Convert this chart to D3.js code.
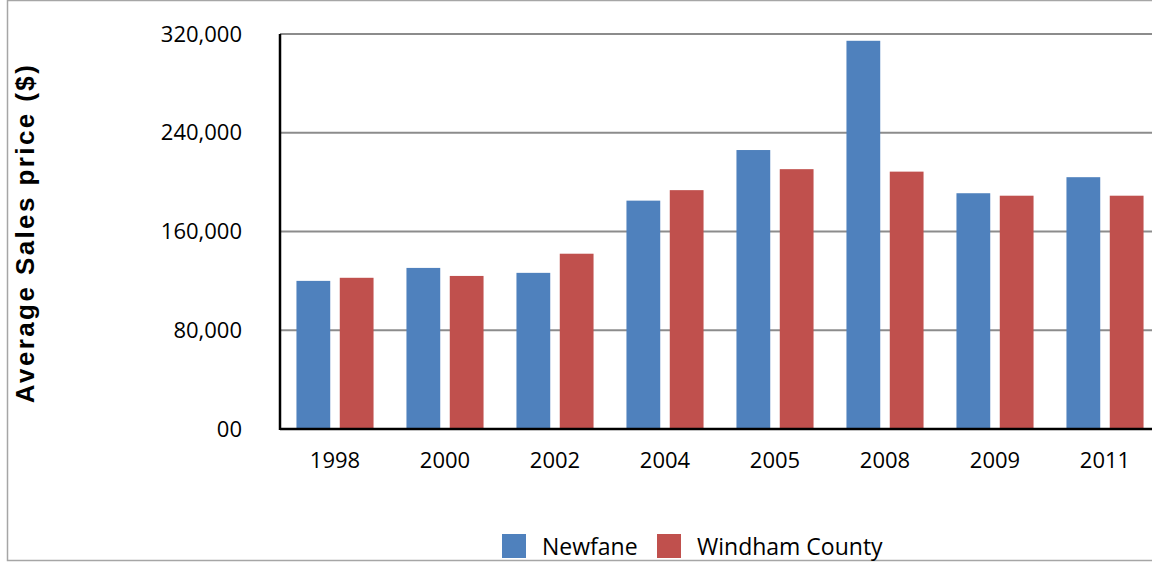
<!DOCTYPE html>
<html>
<head>
<meta charset="utf-8">
<script src="https://cdn.jsdelivr.net/npm/d3@7"></script>
<style>
  html, body { margin: 0; padding: 0; background: #fff; overflow: hidden; }
  text { font-family: "Open Sans", "DejaVu Sans", sans-serif; }
</style>
</head>
<body>
<div class="chart"></div>
<script>
// data
const years = ["1998", "2000", "2002", "2004", "2005", "2008", "2009", "2011"]
const seriesNames = ["Newfane", "Windham County"]
const newfane = [120000, 130500, 126500, 185000, 226000, 314500, 191000, 204000]
const windham = [122500, 124000, 142000, 193500, 210500, 208500, 189000, 189000]
const yTicks = [0, 80000, 160000, 240000, 320000]
const colors = ["#4f81bd", "#c0504d"]

const W = 1152, H = 563
const margin = { top: 34, left: 280, bottom: 134, right: -8 }
const w = W - margin.left - margin.right
const h = H - margin.top - margin.bottom

const svg = d3.select(".chart").append("svg")
  .attr("width", W)
  .attr("height", H)

// outer frame
svg.append("rect")
  .attr("x", 7.5).attr("y", 0.5)
  .attr("width", W + 10).attr("height", 560)
  .attr("fill", "none")
  .attr("stroke", "#a6a6a6")
  .attr("stroke-width", 1.5)

const g = svg.append("g")
  .attr("transform", "translate(" + margin.left + "," + margin.top + ")")

const x0 = d3.scaleBand().domain(years).range([0, w]).paddingInner(0).paddingOuter(0)
const x1 = d3.scaleBand().domain(seriesNames).range([0, x0.bandwidth()])
  .paddingInner(0.22).paddingOuter(0.38)
const y = d3.scaleLinear().domain([0, 320000]).range([h, 0])

// gridlines
g.append("g")
  .selectAll("line")
  .data(yTicks.filter(d => d > 0))
  .enter().append("line")
  .attr("x1", 0).attr("x2", w)
  .attr("y1", d => y(d)).attr("y2", d => y(d))
  .attr("stroke", "#8c8c8c")
  .attr("stroke-width", 2)

// y axis labels
const yAxis = g.append("g")
  .call(d3.axisLeft(y).tickValues(yTicks).tickSize(0).tickPadding(38)
    .tickFormat(d => d === 0 ? "00" : d3.format(",")(d)))
yAxis.select(".domain").remove()
yAxis.selectAll("text")
  .attr("font-size", 22)
  .attr("fill", "#000")
  .style("font-family", "'Open Sans', sans-serif")

// bars
const rows = years.map((yr, i) => ({ year: yr, values: [newfane[i], windham[i]] }))
const groups = g.selectAll(".grp")
  .data(rows)
  .enter().append("g")
  .attr("class", "grp")
  .attr("transform", d => "translate(" + x0(d.year) + ",0)")

groups.selectAll("rect")
  .data(d => d.values.map((v, k) => ({ key: seriesNames[k], value: v, k: k })))
  .enter().append("rect")
  .attr("x", d => x1(d.key))
  .attr("y", d => y(d.value))
  .attr("width", x1.bandwidth())
  .attr("height", d => h - y(d.value))
  .attr("fill", d => colors[d.k])

// x axis
const xAxis = g.append("g")
  .attr("transform", "translate(0," + h + ")")
  .call(d3.axisBottom(x0).tickSize(0).tickPadding(23))
xAxis.select(".domain").remove()
xAxis.selectAll("text")
  .attr("font-size", 22)
  .attr("fill", "#000")
  .style("font-family", "'Open Sans', sans-serif")

// axis lines
g.append("line")
  .attr("x1", 0).attr("x2", w)
  .attr("y1", h).attr("y2", h)
  .attr("stroke", "#000").attr("stroke-width", 2.5)
g.append("line")
  .attr("x1", 0).attr("x2", 0)
  .attr("y1", 0).attr("y2", h + 1)
  .attr("stroke", "#000").attr("stroke-width", 2.5)

// y title
svg.append("text")
  .attr("transform", "translate(34,233) rotate(-90)")
  .attr("text-anchor", "middle")
  .attr("font-size", 26)
  .attr("font-weight", "bold")
  .attr("letter-spacing", 2.4)
  .style("font-family", "'Liberation Sans', Arial, sans-serif")
  .text("Average Sales price ($)")

// legend
const legend = svg.append("g").attr("transform", "translate(502,534)")
const legX = [0, 155]
seriesNames.forEach((name, i) => {
  legend.append("rect")
    .attr("x", legX[i]).attr("y", 0)
    .attr("width", 24).attr("height", 24)
    .attr("fill", colors[i])
  legend.append("text")
    .attr("x", legX[i] + 40).attr("y", 21)
    .attr("font-size", 23)
    .style("font-family", "'Open Sans', sans-serif")
    .text(name)
})
</script>
</body>
</html>
